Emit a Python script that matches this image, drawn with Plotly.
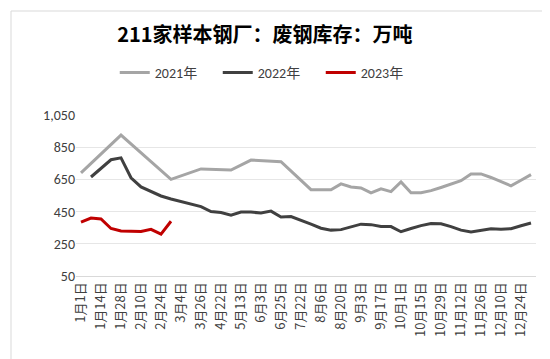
import plotly.graph_objects as go

# Tick labels (every other category on the axis)
tick_labels = ["1月1日", "1月14日", "1月28日", "2月10日", "2月24日", "3月4日", "3月26日",
               "4月22日", "5月13日", "6月3日", "6月25日", "7月22日", "8月6日", "8月20日",
               "9月3日", "9月17日", "10月1日", "10月15日", "10月29日", "11月12日",
               "11月26日", "12月10日", "12月24日"]
n_categories = 46

series_names = ["2021年", "2022年", "2023年"]

y2021 = [690, None, None, None, 925, None, None, None, None, 650,
         None, None, 715, None, None, 708, None, 770, None, None,
         760, None, None, 586, 586, 586, 622, 603, 597, 566,
         591, 574, 634, 567, 567, 580, 600, 622, 642, 684,
         684, 662, 637, 610, 645, 680]

y2022 = [None, 665, 718, 772, 784, 660, 603, 573, 547, 528,
         513, 494, 481, 450, 444, 428, 447, 447, 441, 453,
         416, 419, 397, 372, 347, 335, 338, 354, 372, 369,
         357, 357, 325, 345, 363, 376, 374, 357, 335, 323,
         335, 344, 341, 344, 362, 379]

y2023 = [385, 410, 404, 345, 330, 328, 326, 340, 310, 390]

colors = ["#A5A5A5", "#404040", "#C00000"]

x_all = list(range(n_categories))
fig = go.Figure()
for name, ys, c in zip(series_names, [y2021, y2022, y2023], colors):
    fig.add_trace(go.Scatter(x=x_all[:len(ys)], y=ys, name=name, mode="lines",
                             connectgaps=True,
                             line=dict(color=c, width=3)))

font_main = "Calibri, Carlito, Lato, 'Noto Sans CJK SC', sans-serif"
fig.update_layout(
    width=550, height=359,
    margin=dict(l=68, r=22, t=107, b=91),
    paper_bgcolor="white", plot_bgcolor="white",
    title=dict(text="<b>211家样本钢厂：废钢库存：万吨</b>",
               x=0.467, xanchor="center", xref="container",
               y=1 - 27 / 359, yanchor="middle", yref="container",
               font=dict(family="'Noto Sans CJK SC', sans-serif", size=20, color="#000000")),
    legend=dict(orientation="h", x=0.475, xanchor="center", xref="container",
                y=1 - 65 / 359, yanchor="middle", yref="container",
                font=dict(family=font_main, size=14, color="#404040"),
                entrywidth=58, entrywidthmode="pixels", itemwidth=30),
    showlegend=True,
)
fig.update_xaxes(range=[-0.5, n_categories - 0.5],
                 tickmode="array", tickvals=x_all[::2], ticktext=tick_labels,
                 tickangle=-90, showgrid=False, zeroline=False,
                 showline=True, linecolor="#D9D9D9", linewidth=1,
                 ticks="", tickfont=dict(family="'Noto Sans CJK SC', sans-serif", size=13, color="#404040"))
fig.update_yaxes(range=[50, 1050], tickvals=[50, 250, 450, 650, 850, 1050],
                 tickformat=",", showgrid=True, gridcolor="#E6E6E6", gridwidth=1,
                 zeroline=False, showline=False, ticks="",
                 tickfont=dict(family=font_main, size=14, color="#404040"))
fig.add_shape(type="rect", xref="paper", yref="paper",
              x0=-65/460, x1=1 + 19/460, y0=-87/161, y1=1 + 104/161,
              line=dict(color="#D9D9D9", width=1), layer="below")
fig.write_html("out.html")
